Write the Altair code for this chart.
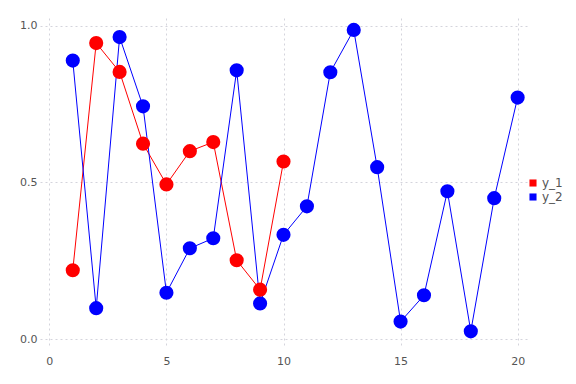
import altair as alt
import pandas as pd

x1 = [1, 2, 3, 4, 5, 6, 7, 8, 9, 10]
y1 = [0.220, 0.945, 0.853, 0.624, 0.494, 0.600, 0.629, 0.252, 0.158, 0.567]
x2 = list(range(1, 21))
y2 = [0.889, 0.099, 0.964, 0.743, 0.148, 0.290, 0.322, 0.858, 0.114, 0.333,
      0.424, 0.852, 0.987, 0.549, 0.056, 0.140, 0.472, 0.025, 0.450, 0.771]
series = ["y_1", "y_2"]
colors = ["#ff0000", "#0000ff"]

df = pd.DataFrame(
    {"x": x1 + x2, "y": y1 + y2, "s": [series[0]] * len(x1) + [series[1]] * len(x2)}
)

grid = dict(gridColor="#d4d4dc", gridDash=[2, 3], gridWidth=1)
xax = alt.X("x:Q", scale=alt.Scale(domain=[-0.4, 20.4], nice=False, zero=False),
            axis=alt.Axis(values=[0, 5, 10, 15, 20], title=None, domain=False, ticks=False,
                          labelPadding=8, labelFontSize=11, labelColor="#555555",
                          labelFont="DejaVu Sans", **grid))
yax = alt.Y("y:Q", scale=alt.Scale(domain=[-0.025, 1.025], nice=False, zero=False),
            axis=alt.Axis(values=[0.0, 0.5, 1.0], format=".1f", title=None, domain=False,
                          ticks=False, labelPadding=3, labelFontSize=11, labelColor="#555555",
                          labelFont="DejaVu Sans", **grid))
cscale = alt.Scale(domain=series, range=colors)
leg = alt.Legend(title=None, orient="none", legendX=487, legendY=159,
                 symbolType="square", symbolSize=50, labelFontSize=12,
                 labelColor="#555555", labelFont="DejaVu Sans",
                 rowPadding=2, symbolOffset=0, labelOffset=3,
                 symbolStrokeWidth=0)

lines = alt.Chart(df).mark_line(strokeWidth=1).encode(
    x=xax, y=yax, color=alt.Color("s:N", scale=cscale, legend=leg), detail="s:N"
)
points = alt.Chart(df).mark_point(filled=True, shape="circle", size=200, opacity=1).encode(
    x=xax, y=yax,
    color=alt.Color("s:N", scale=cscale, legend=leg),
    order=alt.Order("s:N", sort="descending"),
)

chart = alt.layer(lines, points).properties(
    width=487, height=329, autosize=alt.AutoSizeParams(type="none"),
    padding={"left": 32, "top": 10, "right": 41, "bottom": 30}
).configure_view(stroke=None)

chart.save("out.html", embed_options={"renderer": "svg", "actions": False})
